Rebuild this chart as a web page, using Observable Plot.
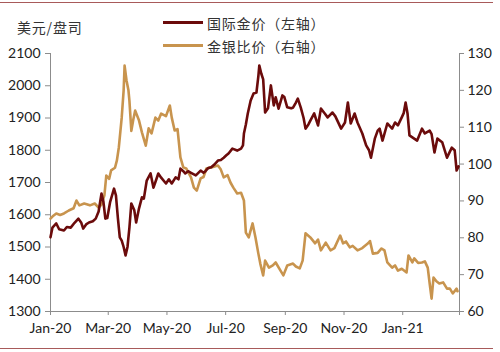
<!DOCTYPE html>
<html><head><meta charset="utf-8">
<script src="https://cdn.jsdelivr.net/npm/d3@7"></script>
<script src="https://cdn.jsdelivr.net/npm/@observablehq/plot@0.6"></script>
<style>
body{margin:0;background:#fff;}
#wrap{position:relative;width:500px;height:352px;font-family:Lato,"Noto Sans CJK SC",sans-serif;color:#222;}
#chart{position:absolute;left:0;top:0;}
.rule{position:absolute;left:0;width:493px;height:1px;background:#A85A5A;}
.cjk{position:absolute;font-family:"Noto Sans CJK SC",sans-serif;font-size:14px;letter-spacing:0.8px;color:#333;line-height:1;white-space:nowrap;}
.sw{position:absolute;width:40px;height:3px;}
</style></head><body>
<div id="wrap">
<div class="rule" style="top:2px"></div>
<div id="chart"></div>
<div class="cjk" style="left:17px;top:20px;">美元/盘司</div>
<div class="sw" id="sw1" style="left:163px;top:21px;"></div>
<div class="cjk" id="lg1" style="left:207px;top:16px;"></div>
<div class="sw" id="sw2" style="left:163px;top:44px;"></div>
<div class="cjk" id="lg2" style="left:207px;top:39px;"></div>
<div class="rule" style="top:348px"></div>
</div>
<script>
// ---- data ----
const seriesNames = ["国际金价（左轴）", "金银比价（右轴）"];
const seriesColors = ["#6B0B0B", "#C8944E"];

const goldDates = ["2020-01-01","2020-01-03","2020-01-07","2020-01-10","2020-01-15","2020-01-18","2020-01-22","2020-01-26","2020-01-30","2020-02-02","2020-02-04","2020-02-07","2020-02-10","2020-02-14","2020-02-17","2020-02-20","2020-02-23","2020-02-25","2020-02-27","2020-02-29","2020-03-03","2020-03-07","2020-03-09","2020-03-11","2020-03-13","2020-03-15","2020-03-17","2020-03-19","2020-03-21","2020-03-23","2020-03-25","2020-03-28","2020-03-30","2020-04-02","2020-04-05","2020-04-07","2020-04-10","2020-04-14","2020-04-17","2020-04-20","2020-04-22","2020-04-25","2020-04-30","2020-05-03","2020-05-06","2020-05-10","2020-05-13","2020-05-15","2020-05-18","2020-05-20","2020-05-23","2020-05-26","2020-05-31","2020-06-05","2020-06-08","2020-06-10","2020-06-13","2020-06-16","2020-06-19","2020-06-23","2020-06-26","2020-06-29","2020-07-02","2020-07-04","2020-07-08","2020-07-13","2020-07-17","2020-07-19","2020-07-20","2020-07-22","2020-07-24","2020-07-27","2020-07-30","2020-08-02","2020-08-04","2020-08-05","2020-08-07","2020-08-09","2020-08-11","2020-08-14","2020-08-17","2020-08-20","2020-08-22","2020-08-25","2020-08-29","2020-08-31","2020-09-03","2020-09-07","2020-09-09","2020-09-12","2020-09-14","2020-09-17","2020-09-20","2020-09-22","2020-09-25","2020-09-27","2020-10-01","2020-10-05","2020-10-08","2020-10-12","2020-10-15","2020-10-20","2020-10-23","2020-10-29","2020-11-02","2020-11-05","2020-11-08","2020-11-12","2020-11-15","2020-11-20","2020-11-24","2020-11-27","2020-11-29","2020-12-03","2020-12-06","2020-12-08","2020-12-11","2020-12-16","2020-12-21","2020-12-24","2020-12-27","2020-12-31","2021-01-02","2021-01-04","2021-01-06","2021-01-08","2021-01-11","2021-01-16","2021-01-21","2021-01-24","2021-01-29","2021-01-31","2021-02-03","2021-02-06","2021-02-11","2021-02-16","2021-02-21","2021-02-24","2021-02-26","2021-02-28"];
const goldPrice = [1530,1560,1573,1555,1551,1562,1560,1575,1588,1575,1557,1570,1576,1580,1588,1610,1666,1640,1588,1590,1640,1681,1660,1590,1530,1520,1500,1474,1500,1560,1635,1615,1576,1620,1654,1650,1706,1728,1684,1710,1728,1715,1697,1710,1697,1716,1710,1743,1735,1728,1735,1730,1722,1737,1730,1735,1745,1747,1755,1768,1770,1777,1785,1790,1805,1799,1805,1815,1852,1880,1914,1954,1976,1979,2030,2063,2038,2020,1917,1930,2001,1939,1964,1929,1970,1965,1933,1930,1932,1948,1960,1933,1900,1867,1880,1892,1914,1877,1929,1914,1902,1917,1905,1867,1886,1948,1883,1914,1886,1852,1815,1800,1777,1836,1861,1867,1830,1883,1867,1886,1877,1902,1915,1948,1914,1846,1840,1830,1867,1852,1861,1850,1793,1836,1825,1777,1808,1800,1737,1750];

const ratioDates = ["2020-01-01","2020-01-04","2020-01-07","2020-01-11","2020-01-15","2020-01-20","2020-01-25","2020-01-28","2020-01-31","2020-02-05","2020-02-11","2020-02-16","2020-02-20","2020-02-23","2020-02-26","2020-02-28","2020-03-02","2020-03-04","2020-03-08","2020-03-10","2020-03-12","2020-03-15","2020-03-17","2020-03-18","2020-03-20","2020-03-22","2020-03-23","2020-03-25","2020-03-27","2020-03-29","2020-04-02","2020-04-05","2020-04-09","2020-04-12","2020-04-15","2020-04-19","2020-04-22","2020-04-25","2020-04-30","2020-05-04","2020-05-06","2020-05-09","2020-05-12","2020-05-15","2020-05-18","2020-05-21","2020-05-26","2020-05-29","2020-06-01","2020-06-05","2020-06-08","2020-06-11","2020-06-16","2020-06-23","2020-06-26","2020-06-29","2020-07-03","2020-07-06","2020-07-09","2020-07-13","2020-07-17","2020-07-20","2020-07-22","2020-07-25","2020-07-29","2020-08-01","2020-08-04","2020-08-06","2020-08-09","2020-08-11","2020-08-15","2020-08-19","2020-08-22","2020-08-27","2020-08-30","2020-09-03","2020-09-09","2020-09-12","2020-09-16","2020-09-19","2020-09-22","2020-09-27","2020-10-02","2020-10-05","2020-10-08","2020-10-13","2020-10-18","2020-10-22","2020-10-28","2020-10-31","2020-11-03","2020-11-07","2020-11-10","2020-11-15","2020-11-20","2020-11-26","2020-11-28","2020-12-01","2020-12-06","2020-12-10","2020-12-13","2020-12-16","2020-12-21","2020-12-24","2020-12-27","2020-12-31","2021-01-05","2021-01-07","2021-01-11","2021-01-13","2021-01-17","2021-01-21","2021-01-24","2021-01-27","2021-01-29","2021-01-31","2021-02-02","2021-02-05","2021-02-08","2021-02-12","2021-02-16","2021-02-19","2021-02-22","2021-02-26","2021-02-27"];
const ratioValues = [85.2,86,86.6,86.2,86.6,87.4,88,90.1,88.8,89.3,88.8,89.3,88.2,89,91.5,96.9,96,98.3,99,101,104.5,112.6,120,126.7,122.7,120,117.2,109,112,114.5,111.8,108.6,105,109.7,108.3,112.6,111.8,113.7,113,115.9,112.6,109.1,109.5,101.8,99.1,98.8,96.4,93.6,92.8,96.1,96.5,98.8,99.1,99.6,98.5,96.4,97,95,93.6,92,92.2,90.1,81.4,80.1,83.9,80.1,75.7,73,69.8,73.8,71.9,72.5,73.3,71.1,69.8,72.5,73,72.2,71.7,73.8,81.2,80.1,78.5,79.5,76.6,78.7,76.6,77.2,80.6,78.5,79,77.4,77.8,76.6,77.2,78.5,79.1,75.7,75.9,77.1,76.6,73.3,71.9,72.5,71.1,71.6,70.6,75.2,73.3,74.4,73.2,73.3,73.6,71.9,67.6,63.5,69.2,68.2,67.6,67.9,66.2,66.2,64.9,66.2,65.5];

const leftTicks = [1300,1400,1500,1600,1700,1800,1900,2000,2100];
const rightTicks = [60,70,80,90,100,110,120,130];
const xTickDates = ["2020-01-01","2020-03-01","2020-05-01","2020-07-01","2020-09-01","2020-11-01","2021-01-01","2021-03-01"];
const xTickLabels = ["Jan-20","Mar-20","May-20","Jul-20","Sep-20","Nov-20","Jan-21",""];

// ---- build ----
const L0 = leftTicks[0], L1 = leftTicks[leftTicks.length-1];
const R0 = rightTicks[0], R1 = rightTicks[rightTicks.length-1];
const toLeft = r => L0 + (r - R0) * (L1 - L0) / (R1 - R0);
const fromLeft = v => R0 + (v - L0) * (R1 - R0) / (L1 - L0);

const gold = goldDates.map((d, i) => ({date: new Date(d), v: goldPrice[i]}));
const ratio = ratioDates.map((d, i) => ({date: new Date(d), v: toLeft(ratioValues[i])}));
const xt = xTickDates.map(d => new Date(d));
const xDomain = [xt[0], xt[xt.length-1]];

const axisColor = "#8C8C8C";
const chart = Plot.plot({
  width: 500, height: 352,
  marginTop: 53, marginBottom: 41, marginLeft: 50, marginRight: 41,
  style: {fontFamily: "Lato, sans-serif", fontSize: "14px", color: "#222", background: "transparent", overflow: "visible"},
  x: {type: "utc", domain: xDomain},
  y: {domain: [L0, L1]},
  marks: [
    Plot.axisX({ticks: xt, tickFormat: d => xTickLabels[xt.findIndex(t => +t === +d)], tickSize: 4, tickPadding: 8, stroke: axisColor, label: null}),
    Plot.axisY({anchor: "left", ticks: leftTicks, tickFormat: d => String(d), tickSize: 5, tickPadding: 5, stroke: axisColor, label: null}),
    Plot.axisY({anchor: "right", ticks: rightTicks.map(toLeft), tickFormat: v => String(Math.round(fromLeft(v))), tickSize: 4, tickPadding: 4, stroke: axisColor, label: null}),
    Plot.ruleX([xDomain[0]], {stroke: axisColor}),
    Plot.ruleX([xDomain[1]], {stroke: axisColor}),
    Plot.ruleY([L0], {stroke: axisColor}),
    Plot.line(ratio, {x: "date", y: "v", stroke: seriesColors[1], strokeWidth: 2.6, strokeLinejoin: "round"}),
    Plot.line(gold, {x: "date", y: "v", stroke: seriesColors[0], strokeWidth: 2.6, strokeLinejoin: "round"})
  ]
});
document.getElementById("chart").appendChild(chart);
document.getElementById("lg1").textContent = seriesNames[0];
document.getElementById("lg2").textContent = seriesNames[1];
document.getElementById("sw1").style.background = seriesColors[0];
document.getElementById("sw2").style.background = seriesColors[1];
</script>
</body></html>
